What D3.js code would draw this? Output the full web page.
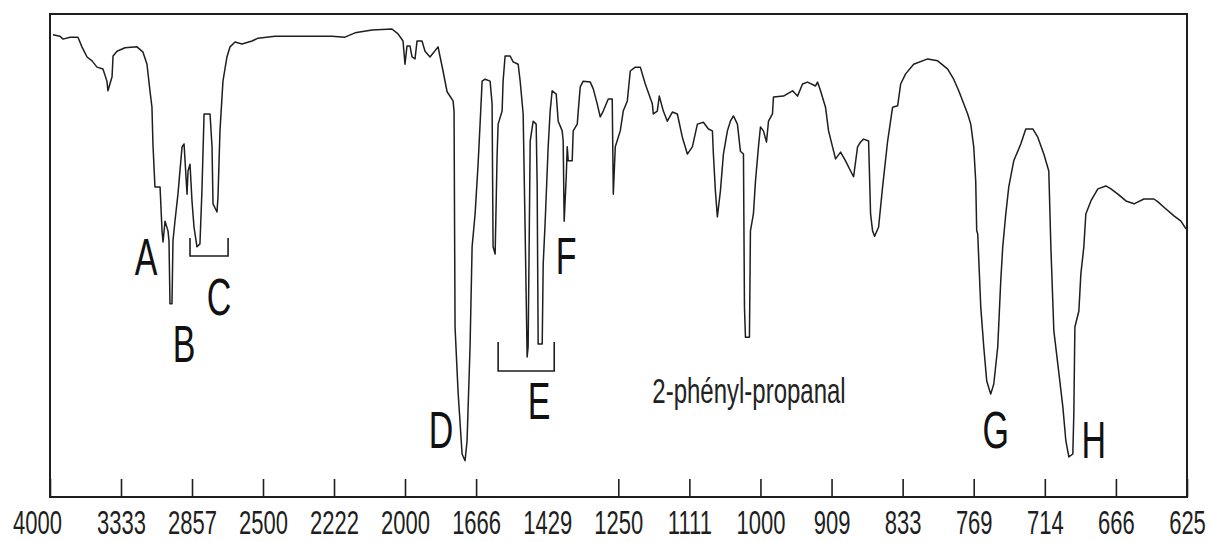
<!DOCTYPE html>
<html>
<head>
<meta charset="utf-8">
<script src="https://cdnjs.cloudflare.com/ajax/libs/d3/7.8.5/d3.min.js"></script>
<style>
body { margin: 0; background: #fff; }
</style>
</head>
<body>
<script>
// IR spectrum of 2-phényl-propanal, wavelength in µm (axis labelled in cm-1), %T
var wavelength = [
  2.521,2.570,2.592,2.641,2.697,2.725,2.761,2.796,2.831,2.873,
  2.901,2.908,2.937,2.944,2.972,3.028,3.113,3.155,3.183,3.204,
  3.218,3.225,3.239,3.275,3.289,3.296,3.310,3.331,3.338,3.345,
  3.359,3.366,3.380,3.401,3.430,3.444,3.465,3.472,3.486,3.500,
  3.514,3.535,3.556,3.570,3.585,3.627,3.641,3.648,3.676,3.683,
  3.697,3.718,3.746,3.768,3.803,3.852,3.923,3.965,4.085,4.486,
  4.577,4.648,4.768,4.908,4.951,4.986,5.000,
  5.028,5.070,5.099,5.141,5.169,5.239,5.282,5.352,5.465,5.535,
  5.592,5.676,5.690,5.704,5.746,5.803,5.845,5.873,5.915,5.944,
  5.986,6.028,6.056,6.085,6.127,6.197,6.225,6.239,6.268,6.296,
  6.310,6.366,6.380,6.408,6.479,6.521,6.592,6.620,6.662,6.690,
  6.718,6.732,6.761,6.803,6.845,6.859,6.873,6.930,6.944,6.972,
  7.014,7.042,7.070,7.127,7.155,7.211,7.225,7.239,7.268,7.282,
  7.296,7.352,7.366,7.423,7.437,7.465,7.507,7.606,7.648,7.704,
  7.746,7.789,7.859,7.915,7.930,7.958,8.028,8.070,8.127,8.169,
  8.239,8.310,8.380,8.479,8.493,8.549,8.577,8.634,8.690,8.761,
  8.831,8.901,8.972,9.042,9.113,9.197,9.268,9.324,9.338,9.366,
  9.394,9.437,9.479,9.535,9.577,9.620,9.676,9.718,9.761,9.775,
  9.789,9.845,9.859,9.901,9.930,9.972,10.000,10.042,10.085,10.113,
  10.169,10.183,10.324,10.451,10.521,10.592,10.662,10.775,10.803,10.845,
  10.915,10.958,11.014,11.056,11.127,11.197,11.268,11.310,11.366,11.408,
  11.451,11.521,11.549,11.577,11.606,11.662,11.718,11.789,11.859,11.930,
  11.972,12.042,12.155,12.352,12.493,12.634,12.718,12.789,12.915,12.958,
  13.000,13.028,13.042,13.056,13.099,13.141,13.183,13.239,13.282,13.338,
  13.380,13.408,13.451,13.493,13.563,13.662,13.732,13.831,13.901,13.986,
  14.056,14.085,14.127,14.183,14.254,14.296,14.338,14.394,14.408,14.423,
  14.479,14.507,14.549,14.577,14.648,14.746,14.859,14.930,15.028,15.141,
  15.254,15.394,15.535,15.592,15.676,15.817,15.915,15.986
];
var transmittance = [
  95.7,95.4,94.8,95.2,95.2,93.2,91.1,90.3,89.0,88.6,
  86.1,84.1,87.0,91.3,92.3,93.0,93.2,92.1,89.6,84.1,
  80.7,73.1,64.2,64.2,55.1,52.8,57.1,55.1,53.0,40.0,
  40.0,53.0,57.1,62.7,72.5,73.1,62.7,67.5,68.9,61.3,
  55.9,51.8,52.4,63.4,79.3,79.3,72.5,60.7,59.0,62.1,
  75.8,86.1,91.1,93.2,94.2,93.8,94.4,95.0,95.4,95.4,
  95.2,96.1,96.7,96.9,95.9,94.4,89.6,
  93.4,93.4,91.1,90.7,94.4,94.4,92.3,91.1,93.2,88.2,
  83.9,82.0,79.9,35.2,21.9,8.9,7.5,11.6,31.1,51.8,
  58.6,68.9,77.2,86.1,86.5,86.1,81.4,51.8,50.3,71.0,
  77.2,79.9,86.1,91.3,91.3,90.1,89.6,86.1,79.3,55.1,
  29.0,31.1,73.7,77.8,77.2,64.8,31.7,31.7,48.2,57.1,
  72.5,79.9,84.1,83.4,77.8,75.8,73.7,57.1,66.3,72.5,
  69.6,69.6,75.8,77.2,79.9,84.9,86.1,85.9,84.5,81.4,
  78.7,79.9,82.4,82.4,62.7,72.5,75.8,79.9,82.0,88.2,
  89.0,89.0,85.5,81.4,79.3,79.9,83.0,79.9,77.8,79.7,
  79.3,74.5,71.0,72.5,77.2,77.6,76.2,75.8,71.0,63.4,
  58.0,63.4,71.0,75.8,77.8,78.9,77.2,71.6,71.0,39.3,
  33.1,33.1,55.1,58.6,65.4,72.5,76.6,75.8,73.5,77.8,
  79.3,82.8,83.0,84.1,83.0,85.5,85.9,85.1,85.9,84.1,
  80.7,75.8,72.5,70.0,71.4,69.6,67.5,66.3,72.5,73.5,
  74.1,73.7,58.6,55.1,54.0,55.9,64.2,73.7,80.7,81.0,
  85.5,87.6,89.6,90.7,90.3,88.6,86.5,84.1,79.3,77.2,
  72.5,65.4,55.1,54.5,39.3,31.1,24.0,21.3,23.4,31.1,
  44.7,51.8,58.6,64.2,69.6,73.1,76.2,76.2,74.5,71.0,
  67.5,51.8,34.4,27.5,18.6,11.6,8.3,8.9,17.2,35.2,
  38.5,46.2,51.8,58.6,61.3,63.8,64.4,63.8,62.7,61.3,
  60.7,61.7,61.7,61.1,60.0,58.2,57.1,55.5
];

var tickWavelength = [2.5,3,3.5,4,4.5,5,6,7,8,9,10,11,12,13,14,15,16];
var tickLabels = ["4000","3333","2857","2500","2222","2000","1666","1429","1250",
                  "1111","1000","909","833","769","714","666","625"];

// peak letters, anchored at (wavelength, %T) of their baseline centre
var peakNames = ["A","B","C","D","E","F","G","H"];
var peakWavelength = [3.176,3.444,3.690,5.507,6.887,7.268,13.310,14.690];
var peakLabelT = [46.0,28.0,37.7,10.1,16.1,46.2,10.1,8.1];

// brackets grouping bands C and E
var bracketFrom = [3.486, 6.310];
var bracketTo = [3.754, 7.099];
var bracketTop = [53.6, 32.1];
var bracketBottom = [49.9, 26.1];

var compoundName = "2-phényl-propanal";
var compoundAt = [8.479, 19.5];

var margin = {top: 14, right: 25, bottom: 45, left: 50};
var w = 1212 - margin.left - margin.right;
var h = 542 - margin.top - margin.bottom;

// the spectrometer changes scale at 5 µm (2000 cm-1)
var xScale = d3.scaleLinear()
    .domain([2.5, 5, 16])
    .range([0, 355, w]);

var yScale = d3.scaleLinear()
    .domain([0, 100])
    .range([h, 0]);

var svg = d3.select("body")
    .append("svg")
    .attr("width", 1212)
    .attr("height", 542)
    .append("g")
    .attr("transform", "translate(" + margin.left + "," + margin.top + ")");

var ink = "#1e1e1e";
var labelStretch = 1.48;

var xAxis = d3.axisBottom(xScale)
    .tickValues(tickWavelength)
    .tickFormat(function(d, i) { return tickLabels[i]; })
    .tickSizeInner(-18)
    .tickSizeOuter(0);

var xg = svg.append("g")
    .attr("transform", "translate(0," + h + ")")
    .call(xAxis);

xg.select(".domain").remove();
xg.selectAll(".tick line")
    .attr("stroke", ink)
    .attr("stroke-width", 1.6)
    .attr("display", function(d) { return d === 7 ? "none" : null; }); // no mark at 1429 in the original

xg.selectAll(".tick text")
    .attr("fill", ink)
    .attr("font-family", "'Liberation Sans', Arial, sans-serif")
    .attr("font-size", 22)
    .attr("dy", 0)
    .attr("y", 37.5 / labelStretch)
    .attr("dx", function(d, i) { return i === 0 ? -13 : 0; })
    .attr("transform", "scale(1," + labelStretch + ")");

svg.append("rect")
    .attr("x", 0)
    .attr("y", 0)
    .attr("width", w)
    .attr("height", h)
    .attr("fill", "none")
    .attr("stroke", ink)
    .attr("stroke-width", 2);

var points = d3.zip(wavelength, transmittance);

var line = d3.line()
    .x(function(d) { return xScale(d[0]); })
    .y(function(d) { return yScale(d[1]); });

svg.append("path")
    .datum(points)
    .attr("d", line)
    .attr("fill", "none")
    .attr("stroke", ink)
    .attr("stroke-width", 1.5)
    .attr("stroke-linejoin", "round");

svg.selectAll(".bracket")
    .data(bracketFrom)
    .enter()
    .append("path")
    .attr("class", "bracket")
    .attr("d", function(d, i) {
        return "M" + xScale(d) + "," + yScale(bracketTop[i]) +
               "V" + yScale(bracketBottom[i]) +
               "H" + xScale(bracketTo[i]) +
               "V" + yScale(bracketTop[i]);
    })
    .attr("fill", "none")
    .attr("stroke", ink)
    .attr("stroke-width", 1.6);

svg.selectAll(".peak")
    .data(peakNames)
    .enter()
    .append("text")
    .attr("class", "peak")
    .attr("transform", function(d, i) {
        return "translate(" + xScale(peakWavelength[i]) + "," + yScale(peakLabelT[i]) + ") scale(1,1.55)";
    })
    .attr("text-anchor", "middle")
    .attr("font-family", "'Liberation Sans', Arial, sans-serif")
    .attr("font-size", 34)
    .attr("fill", "#111")
    .text(function(d) { return d; });

svg.append("text")
    .attr("transform", "translate(" + xScale(compoundAt[0]) + "," + yScale(compoundAt[1]) + ") scale(1,1.45)")
    .attr("font-family", "'Liberation Sans', Arial, sans-serif")
    .attr("font-size", 24)
    .attr("fill", "#222")
    .text(compoundName);
</script>
</body>
</html>
